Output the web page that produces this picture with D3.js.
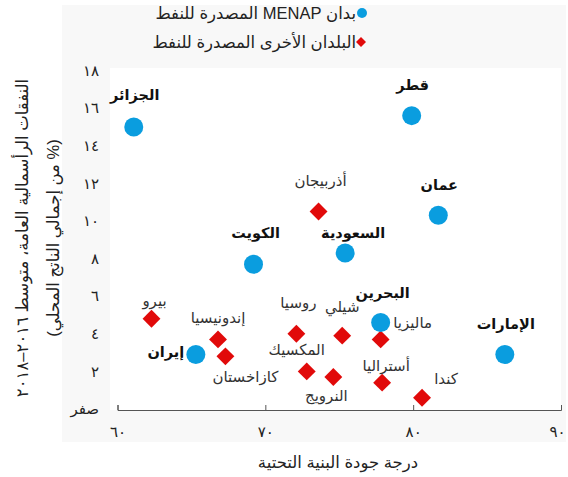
<!DOCTYPE html>
<html>
<head>
<meta charset="utf-8">
<script src="https://cdn.jsdelivr.net/npm/d3@7"></script>
<style>
  body { margin: 0; background: #fff; }
  svg text { font-family: "Liberation Sans", "DejaVu Sans", sans-serif; }
</style>
</head>
<body>
<div id="chart"></div>
<script>
// MENAP oil exporters
const menapNames = ['الجزائر', 'قطر', 'عمان', 'السعودية', 'الكويت', 'البحرين', 'إيران', 'الإمارات'];
const menapX = [61.1, 79.9, 81.7, 75.4, 69.2, 77.8, 65.3, 86.2];
const menapY = [15.0, 15.6, 10.3, 8.3, 7.7, 4.6, 2.9, 2.9];

// other oil exporters
const otherNames = ['أذربيجان', 'بيرو', 'إندونيسيا', 'كازاخستان', 'روسيا', 'شيلي', 'المكسيك', 'النرويج', 'ماليزيا', 'أستراليا', 'كندا'];
const otherX = [73.6, 62.3, 66.8, 67.3, 72.1, 75.2, 72.8, 74.6, 77.8, 77.9, 80.6];
const otherY = [10.5, 4.8, 3.7, 2.8, 4.0, 3.9, 2.0, 1.7, 3.7, 1.4, 0.6];

const xTicks = [60, 70, 80, 90];
const xTickLabels = ['٦٠', '٧٠', '٨٠', '٩٠'];
const yTicks = [0, 2, 4, 6, 8, 10, 12, 14, 16, 18];
const yTickLabels = ['صفر', '٢', '٤', '٦', '٨', '١٠', '١٢', '١٤', '١٦', '١٨'];

const legendLabels = ['بدان MENAP المصدرة للنفط', 'البلدان الأخرى المصدرة للنفط'];
const xTitle = 'درجة جودة البنية التحتية';
const yTitle = ['النفقات الرأسمالية العامة، متوسط ٢٠١٦–٢٠١٨', '(% من إجمالي الناتج المحلي)'];

// label placement relative to the marker (layout only)
const menapLabelOffset = [[1, -32], [1, -31], [1, -30], [8, -20], [2, -31], [2, -30], [-30, -3], [1, -31]];
const otherLabelOffset = [[2, -31], [3, -18], [0, -22], [20, 20], [2, -31], [0, -29], [-10, -22], [-7, 19], [32, -17], [4, -17], [24, -19]];

const width = 568, height = 477;
const blue = '#0a9ddf', red = '#e10a0a';

const svg = d3.select('#chart').append('svg')
  .attr('width', width)
  .attr('height', height);

const x = d3.scaleLinear().domain([60, 90]).range([117.5, 561]);
const y = d3.scaleLinear().domain([0, 18]).range([409, 70.5]);

// backgrounds
svg.append('rect').attr('x', 62).attr('y', 5).attr('width', 504).attr('height', 437).attr('fill', '#f8f8f8');
svg.append('rect').attr('x', 110).attr('y', 68).attr('width', 451).attr('height', 342).attr('fill', '#fff');

// x axis
const xAxis = svg.append('g')
  .attr('transform', `translate(0,${y(0) + 1})`)
  .call(d3.axisBottom(x).tickValues(xTicks).tickSize(-5).tickPadding(16)
    .tickFormat((d, i) => xTickLabels[i]));
xAxis.selectAll('path, line').attr('stroke', '#555');
xAxis.selectAll('text').attr('font-size', 15).attr('fill', '#222')
  .attr('dx', (d, i) => i === xTicks.length - 1 ? -4 : 0);

// y axis (labels only)
const yAxis = svg.append('g')
  .attr('transform', 'translate(99,0)')
  .call(d3.axisLeft(y).tickValues(yTicks).tickSize(0).tickPadding(0)
    .tickFormat((d, i) => yTickLabels[i]));
yAxis.select('.domain').remove();
yAxis.selectAll('text').attr('font-size', 15).attr('fill', '#222');

// axis titles
svg.append('text')
  .attr('x', 338).attr('y', 468)
  .attr('text-anchor', 'middle')
  .attr('direction', 'rtl')
  .attr('font-size', 16.5).attr('fill', '#222')
  .text(xTitle);

yTitle.forEach((t, i) => {
  svg.append('text')
    .attr('transform', `translate(${[22, 53][i]},238) rotate(-90)`)
    .attr('text-anchor', 'middle')
    .attr('direction', 'rtl')
    .attr('dy', '0.35em')
    .attr('font-size', 16.5).attr('fill', '#222')
    .text(t);
});

// markers
const menap = menapNames.map((n, i) => ({ name: n, x: menapX[i], y: menapY[i], off: menapLabelOffset[i] }));
const other = otherNames.map((n, i) => ({ name: n, x: otherX[i], y: otherY[i], off: otherLabelOffset[i] }));

const diamond = d3.symbol(d3.symbolSquare).size(160);

svg.append('g')
  .selectAll('path')
  .data(other)
  .join('path')
  .attr('d', diamond)
  .attr('transform', d => `translate(${x(d.x)},${y(d.y)}) rotate(45)`)
  .attr('fill', red);

svg.append('g')
  .selectAll('circle')
  .data(menap)
  .join('circle')
  .attr('cx', d => x(d.x))
  .attr('cy', d => y(d.y))
  .attr('r', 9.5)
  .attr('fill', blue);

// labels
svg.append('g')
  .selectAll('text')
  .data(menap)
  .join('text')
  .attr('x', d => x(d.x) + d.off[0])
  .attr('y', d => y(d.y) + d.off[1])
  .attr('dy', '0.35em')
  .attr('text-anchor', 'middle')
  .attr('direction', 'rtl')
  .attr('font-size', 14.5).attr('font-weight', 'bold').attr('fill', '#111')
  .text(d => d.name);

svg.append('g')
  .selectAll('text')
  .data(other)
  .join('text')
  .attr('x', d => x(d.x) + d.off[0])
  .attr('y', d => y(d.y) + d.off[1])
  .attr('dy', '0.35em')
  .attr('text-anchor', 'middle')
  .attr('direction', 'rtl')
  .attr('font-size', 15).attr('fill', '#333')
  .text(d => d.name);

// legend
const legend = svg.append('g');
legend.append('circle').attr('cx', 362).attr('cy', 13).attr('r', 5).attr('fill', blue);
legend.append('path').attr('d', d3.symbol(d3.symbolSquare).size(50))
  .attr('transform', 'translate(361,42) rotate(45)').attr('fill', red);
legendLabels.forEach((t, i) => {
  legend.append('text')
    .attr('x', 356).attr('y', [13, 42][i])
    .attr('dy', '0.35em')
    .attr('text-anchor', 'start')
    .attr('direction', 'rtl')
    .attr('font-size', 16.5).attr('fill', '#222')
    .text(t);
});
</script>
</body>
</html>
